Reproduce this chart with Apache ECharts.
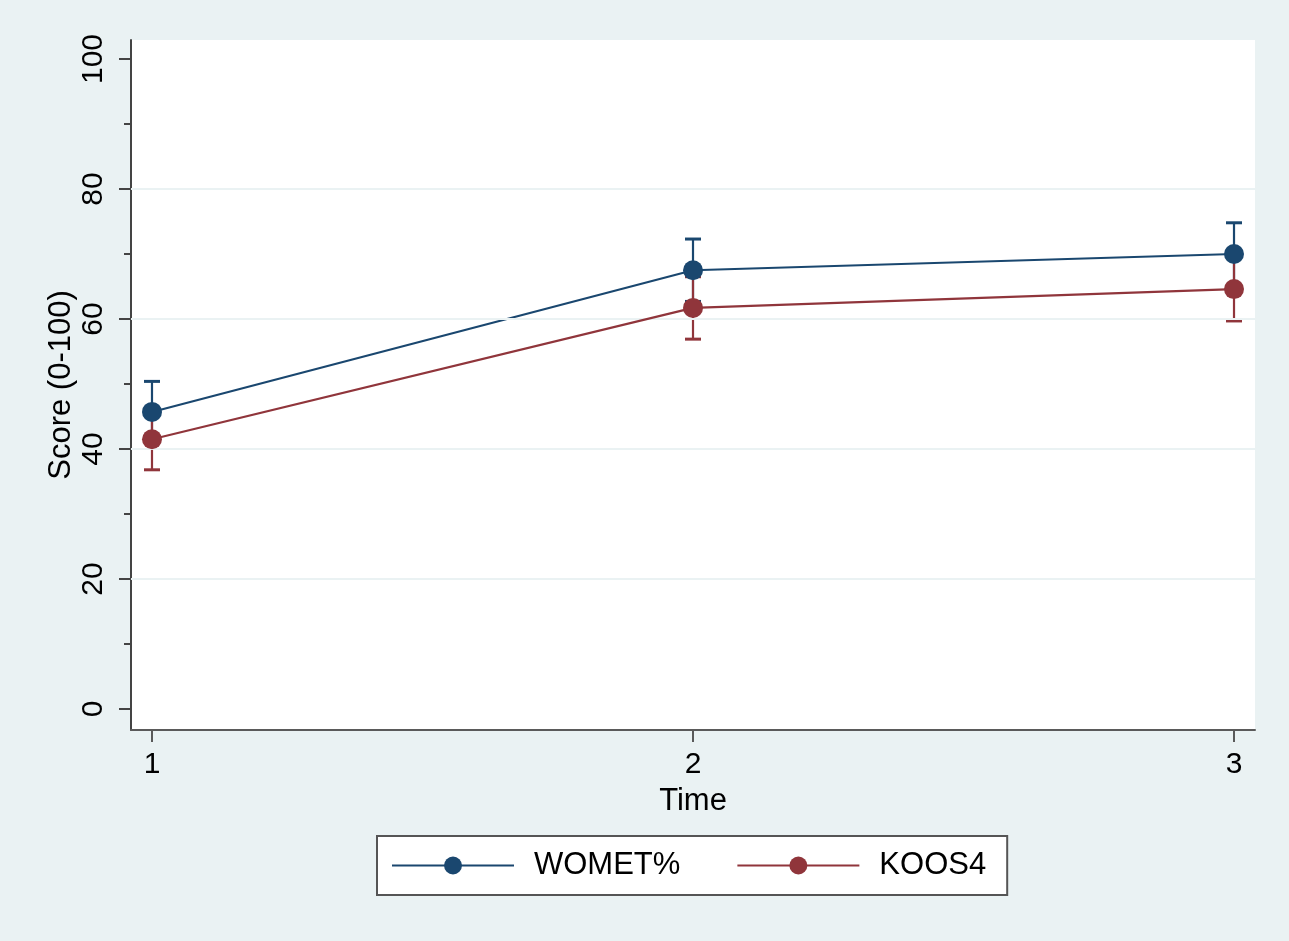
<!DOCTYPE html>
<html>
<head>
<meta charset="utf-8">
<script src="https://cdn.jsdelivr.net/npm/echarts@6/dist/echarts.min.js"></script>
<style>
  html, body { margin: 0; padding: 0; background: #ffffff; }
  #chart { position: absolute; left: 0; top: 0; width: 1289px; height: 941px; }
</style>
</head>
<body>
<div id="chart"></div>
<script>
// Time points
const timePoints = [1, 2, 3];

// WOMET% : mean with lower / upper confidence limits
const wometMean = [45.7, 67.5, 70.0];
const wometLow  = [40.9, 62.7, 65.1];
const wometHigh = [50.4, 72.3, 74.8];

// KOOS4 : mean with lower / upper confidence limits
const koosMean = [41.5, 61.7, 64.6];
const koosLow  = [36.8, 56.9, 59.7];
const koosHigh = [46.2, 66.5, 69.5];

// Axis ticks
const yMajorTicks = [0, 20, 40, 60, 80, 100];
const yMinorTicks = [10, 30, 50, 70, 90];
const yGridValues = [20, 40, 60, 80];
const xTicks = [1, 2, 3];

const BLUE = '#1a476f';
const RED = '#90353b';
const BG = '#eaf2f3';
const FONT = '"Liberation Sans", Arial, Helvetica, sans-serif';

const chart = echarts.init(document.getElementById('chart'), null, { renderer: 'canvas' });

function pairs(xs, ys) { return xs.map((x, i) => [x, ys[i]]); }
function ranges(xs, lo, hi) { return xs.map((x, i) => [x, lo[i], hi[i]]); }

function errorBar(color) {
  return function (params, api) {
    const x = api.value(0);
    const pLo = api.coord([x, api.value(1)]);
    const pHi = api.coord([x, api.value(2)]);
    const half = 8;
    const capStyle = { stroke: color, lineWidth: 3 };
    return {
      type: 'group',
      children: [
        { type: 'line', shape: { x1: pLo[0], y1: pLo[1], x2: pHi[0], y2: pHi[1] }, style: { stroke: color, lineWidth: 2.2 } },
        { type: 'line', shape: { x1: pHi[0] - half, y1: pHi[1], x2: pHi[0] + half, y2: pHi[1] }, style: capStyle },
        { type: 'line', shape: { x1: pLo[0] - half, y1: pLo[1], x2: pLo[0] + half, y2: pLo[1] }, style: capStyle }
      ]
    };
  };
}

// plot region extends a little beyond the data range, like the axis frame
const Y_MIN = -3.23, Y_MAX = 102.92;
const X_MIN = 0.9612, X_MAX = 3.0388;

chart.setOption({
  backgroundColor: BG,
  animation: false,
  textStyle: { fontFamily: FONT },
  grid: {
    left: 131, right: 34, top: 40, bottom: 211,
    show: true, backgroundColor: '#ffffff', borderWidth: 0
  },
  legend: {
    left: 377, top: 836,
    padding: [14, 21, 14, 14],
    backgroundColor: '#ffffff',
    borderColor: '#555555', borderWidth: 2,
    itemWidth: 122, itemHeight: 22.5, itemGap: 56,
    textStyle: { fontSize: 31, color: '#000', fontFamily: FONT, padding: [0, 0, 0, 15] },
    data: ['WOMET%', 'KOOS4']
  },
  xAxis: {
    type: 'value', min: X_MIN, max: X_MAX,
    name: 'Time', nameLocation: 'middle', nameGap: 56, nameMoveOverlap: false,
    nameTextStyle: { fontSize: 31, color: '#000', fontFamily: FONT },
    axisLine: { show: true, onZero: false, lineStyle: { color: '#5a5a5a', width: 2 } },
    axisTick: { show: true, customValues: xTicks, length: 12, lineStyle: { color: '#5a5a5a', width: 2 } },
    axisLabel: { show: true, customValues: xTicks, fontSize: 30, color: '#000', margin: 20, fontFamily: FONT },
    splitLine: { show: false }
  },
  yAxis: [
    {
      type: 'value', min: Y_MIN, max: Y_MAX,
      name: 'Score (0-100)', nameLocation: 'middle', nameGap: 54, nameMoveOverlap: false,
      nameTextStyle: { fontSize: 31, color: '#000', fontFamily: FONT },
      axisLine: { show: true, onZero: false, lineStyle: { color: '#444444', width: 2 } },
      axisTick: { show: true, customValues: yMajorTicks, length: 12, lineStyle: { color: '#444444', width: 2 } },
      axisLabel: { show: true, customValues: yMajorTicks, rotate: 90, fontSize: 30, color: '#000', margin: 22, fontFamily: FONT },
      splitLine: { show: false }
    },
    {
      type: 'value', min: Y_MIN, max: Y_MAX, position: 'left',
      axisLine: { show: false },
      axisTick: { show: true, customValues: yMinorTicks, length: 7, lineStyle: { color: '#444444', width: 2 } },
      axisLabel: { show: false },
      splitLine: { show: false }
    }
  ],
  series: [
    {
      name: 'WOMET% CI', type: 'custom', z: 2,
      renderItem: errorBar(BLUE),
      data: ranges(timePoints, wometLow, wometHigh),
      encode: { x: 0, y: [1, 2] },
      markLine: {
        silent: true, symbol: 'none', label: { show: false },
        lineStyle: { color: BG, width: 2, type: 'solid' },
        data: yGridValues.map(v => ({ yAxis: v }))
      }
    },
    {
      name: 'KOOS4 CI', type: 'custom', z: 3,
      renderItem: errorBar(RED),
      data: ranges(timePoints, koosLow, koosHigh),
      encode: { x: 0, y: [1, 2] }
    },
    {
      name: 'WOMET%', type: 'line', z: 4,
      data: pairs(timePoints, wometMean),
      symbol: 'circle', symbolSize: 20,
      lineStyle: { color: BLUE, width: 2.2 },
      itemStyle: { color: BLUE }
    },
    {
      name: 'KOOS4', type: 'line', z: 5,
      data: pairs(timePoints, koosMean),
      symbol: 'circle', symbolSize: 20,
      lineStyle: { color: RED, width: 2.2 },
      itemStyle: { color: RED }
    }
  ]
});
</script>
</body>
</html>
